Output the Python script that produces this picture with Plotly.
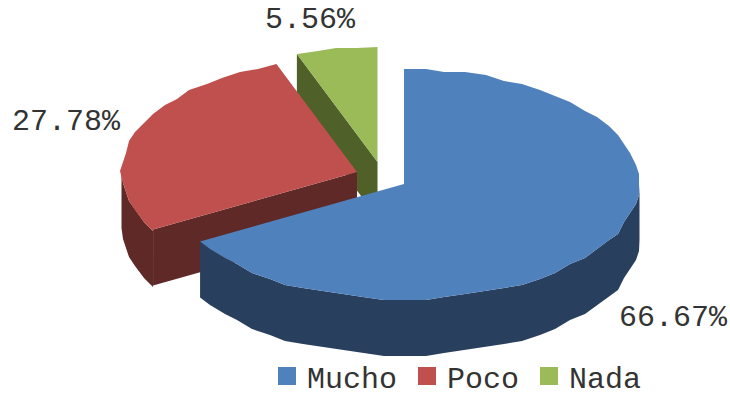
import numpy as np
import plotly.graph_objects as go

# Survey shares and their slice styling
categories = ["Mucho", "Poco", "Nada"]
values = [66.67, 27.78, 5.56]
top_colors = ["#4F81BD", "#C0504D", "#9BBB59"]
wall_colors = ["#283F5E", "#5F2927", "#4F6128"]
label_positions = [(673, 318), (66, 122), (310, 20)]

# Projection of the tilted disc, in layout units
CX, CY = 404, 184
RX, RY = 235.5, 115
DEPTH = 56
explode = [(0, 0), (-47, -12), (-26.5, -22)]
FONT = "Liberation Mono"
TEXT_COLOR = "#333333"
GRID = 3  # rim vertices snap to this grid, giving the coarse faceted outline
STEP = 5  # degrees between rim vertices
legend_left = [267, 407, 529]


def rim(a0, a1, ox, oy, dy=0):
    """Faceted rim between two clockwise angles measured from 12 o'clock."""
    lo, hi = min(a0, a1), max(a0, a1)
    inner = np.arange(np.floor(lo / STEP) + 1, np.ceil(hi / STEP)) * STEP
    deg = np.r_[lo, inner, hi]
    if a0 > a1:
        deg = deg[::-1]
    t = np.radians(deg)
    x = CX + ox + RX * np.sin(t)
    y = CY + oy - RY * np.cos(t)
    x[1:-1] = np.round(x[1:-1] / GRID) * GRID
    y[1:-1] = np.round(y[1:-1] / GRID) * GRID
    return x, y + dy


def patch(xs, ys, color):
    return go.Scatter(x=list(xs), y=list(ys), mode="lines", fill="toself", fillcolor=color,
                      line=dict(width=0), hoverinfo="skip", showlegend=False)


def radial_wall(edge_angle, ox, oy, color):
    ex, ey = rim(edge_angle, edge_angle + 1, ox, oy)
    ax, ay = CX + ox, CY + oy
    return patch([ex[0], ax, ax, ex[0]], [ey[0], ay, ay + DEPTH, ey[0] + DEPTH], color)


total = sum(values)
edges = np.concatenate([[0], np.cumsum(values) / total * 360])
fig = go.Figure()

# Painter's order: rear slice first, the large front slice last
for i in [2, 1, 0]:
    a0, a1 = edges[i], edges[i + 1]
    ox, oy = explode[i]
    ax, ay = CX + ox, CY + oy
    if i == 0:
        # Outer wall across the visible front of the rim
        x1, y1 = rim(90, a1, ox, oy)
        x2, y2 = rim(a1, 90, ox, oy, DEPTH)
        fig.add_trace(patch(np.r_[x1, x2], np.r_[y1, y2], wall_colors[i]))
    elif i == 1:
        # Outer wall on the left, then the radial wall facing the viewer
        x1, y1 = rim(a0, 270, ox, oy)
        x2, y2 = rim(270, a0, ox, oy, DEPTH)
        fig.add_trace(patch(np.r_[x1, x2], np.r_[y1, y2], wall_colors[i]))
        fig.add_trace(radial_wall(a0, ox, oy, wall_colors[i]))
    else:
        # Radial wall on the left side of the slice
        fig.add_trace(radial_wall(a0, ox, oy, wall_colors[i]))
    xs, ys = rim(a0, a1, ox, oy)
    fig.add_trace(patch(np.r_[ax, xs, ax], np.r_[ay, ys, ay], top_colors[i]))

# One legend per entry so the swatches can keep their own spacing
legend_layout = {}
for k, (name, color, left) in enumerate(zip(categories, top_colors, legend_left)):
    key = "legend" if k == 0 else f"legend{k + 1}"
    fig.add_trace(go.Scatter(x=[None], y=[None], mode="markers", name=name, legend=key,
                             marker=dict(symbol="square", size=16, color=color,
                                         line=dict(width=2, color=color))))
    legend_layout[key] = dict(x=left / 730, y=-0.015, xanchor="left", yanchor="bottom",
                              font=dict(family=FONT, size=30, color=TEXT_COLOR),
                              bgcolor="rgba(0,0,0,0)")

# Percentage labels
for v, (lx, ly) in zip(values, label_positions):
    fig.add_annotation(x=lx, y=ly, text=f"{v:.2f}%", showarrow=False,
                       font=dict(family=FONT, size=30, color=TEXT_COLOR))

fig.update_layout(
    width=730, height=396, margin=dict(l=0, r=0, t=0, b=0, autoexpand=False),
    paper_bgcolor="white", plot_bgcolor="white", showlegend=True,
    xaxis=dict(range=[0, 730], visible=False, fixedrange=True),
    yaxis=dict(range=[396, 0], visible=False, fixedrange=True),
    **legend_layout,
)

fig.write_html("out.html")
